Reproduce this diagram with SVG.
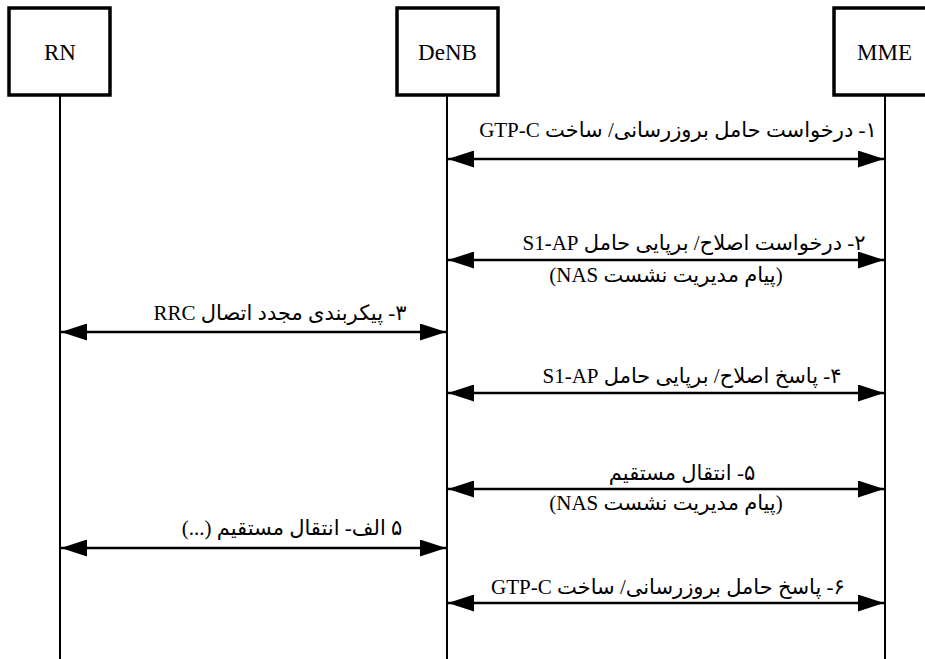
<svg xmlns="http://www.w3.org/2000/svg" width="925" height="659" viewBox="0 0 925 659">
<defs>
<marker id="ah" viewBox="0 0 26 17" refX="26" refY="8.5" markerWidth="26" markerHeight="17" markerUnits="userSpaceOnUse" orient="auto-start-reverse">
<path d="M0,0 L26,8.5 L0,17 Z" fill="#000"/>
</marker>
</defs>
<style>
.box{fill:#fff;stroke:#000;stroke-width:3.5}
.life{stroke:#000;stroke-width:2}
.name{font-family:"Liberation Serif","Times New Roman",serif;font-size:23px;text-anchor:middle;fill:#000}
.msg{stroke:#000;stroke-width:2.6;fill:none;marker-start:url(#ah);marker-end:url(#ah)}
.lbl{font-family:"Liberation Serif","DejaVu Sans",serif;font-size:21px;text-anchor:middle;fill:#000;direction:rtl;unicode-bidi:embed}
</style>
<rect width="925" height="659" fill="#fff"/>
<g id="lifelines">
<line class="life" x1="60" y1="95" x2="60" y2="659"/>
<line class="life" x1="447" y1="95" x2="447" y2="659"/>
<line class="life" x1="885" y1="95" x2="885" y2="659"/>
</g>
<g id="RN"><rect class="box" x="9" y="8" width="101" height="87"/><text class="name" x="60" y="60">RN</text></g>
<g id="DeNB"><rect class="box" x="397" y="8" width="101" height="87"/><text class="name" x="447.5" y="60">DeNB</text></g>
<g id="MME"><rect class="box" x="834" y="8" width="101" height="87"/><text class="name" x="884.5" y="60">MME</text></g>
<g id="connectors">
<line class="msg" x1="448" y1="159" x2="884" y2="159"/>
<line class="msg" x1="448" y1="260" x2="884" y2="260"/>
<line class="msg" x1="61" y1="332" x2="446" y2="332"/>
<line class="msg" x1="448" y1="393" x2="884" y2="393"/>
<line class="msg" x1="448" y1="489" x2="884" y2="489"/>
<line class="msg" x1="61" y1="548" x2="446" y2="548"/>
<line class="msg" x1="448" y1="603" x2="884" y2="603"/>
</g>
<g id="labels">
<text class="lbl" x="678" y="137">۱- درخواست حامل بروزرسانی/ ساخت GTP-C</text>
<text class="lbl" x="694" y="250">۲- درخواست اصلاح/ برپایی حامل S1-AP</text>
<text class="lbl" x="666" y="282">(پیام مدیریت نشست NAS)</text>
<text class="lbl" x="280" y="320">۳- پیکربندی مجدد اتصال RRC</text>
<text class="lbl" x="692" y="383">۴- پاسخ اصلاح/ برپایی حامل S1-AP</text>
<text class="lbl" x="682" y="480">۵- انتقال مستقیم</text>
<text class="lbl" x="666" y="510">(پیام مدیریت نشست NAS)</text>
<text class="lbl" x="292" y="535">۵ الف- انتقال مستقیم (...)</text>
<text class="lbl" x="668" y="594">۶- پاسخ حامل بروزرسانی/ ساخت GTP-C</text>
</g>
</svg>
